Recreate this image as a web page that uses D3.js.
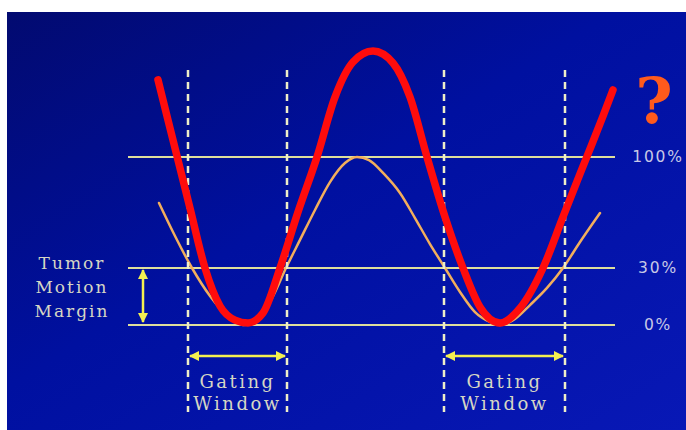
<!DOCTYPE html>
<html>
<head>
<meta charset="utf-8">
<script src="https://cdn.jsdelivr.net/npm/d3@7"></script>
<style>
  html, body { margin: 0; padding: 0; background: #fff; }
  svg { display: block; }
  .lbl { font-family: "DejaVu Serif", serif; fill: #d6d6c4; }
</style>
</head>
<body>
<div id="chart"></div>
<script>
// time (arbitrary units) and respiratory amplitude (% of motion)
var orangeT   = [6.8, 10, 13.4, 17, 20.6, 23.6, 26.6, 29.4, 32.2, 35, 38, 41, 44, 46.4, 48.8, 51.8, 55, 58, 61, 64, 67, 70, 73, 75, 78, 81, 84.4, 87.6, 91, 95];
var orangeVal = [71, 50.2, 30, 15.3, 4.7, 0, 3.7, 14.2, 30, 47.7, 66.6, 84.2, 96.2, 100, 98.1, 89.3, 77.3, 61.5, 45.1, 30, 17.4, 6.8, 1.6, 0, 3.2, 10.5, 19.5, 30, 46.4, 64.7];

var redT   = [6.6, 8.4, 10.4, 13, 16, 19, 22, 24.6, 27.6, 31, 34.6, 38.4, 42, 45.6, 49.6, 53.6, 57, 60.4, 64, 67.6, 71, 75, 79, 83.6, 87.6, 91, 93.4, 95.6, 97.6];
var redVal = [148.6, 125.8, 100.6, 67.8, 30, 10, 2.6, 1.1, 6.3, 30, 65.3, 100, 137.8, 159.9, 166.8, 159.3, 137.8, 100, 62.2, 30, 9.5, 1.1, 8.9, 30, 62.2, 89.3, 108.2, 125.8, 142.3];

var levels      = [0, 30, 100];
var levelLabels = ["0%", "30%", "100%"];

// gating windows: [start, end]
var gateStart = [12.6, 63.8];
var gateEnd   = [32.4, 88];
var gateLines = ["Gating", "Window"];

var marginText = ["Tumor", "Motion", "Margin"];

var W = 686, H = 430;

var svg = d3.select("#chart").append("svg")
  .attr("width", W).attr("height", H);

var defs = svg.append("defs");
var grad = defs.append("linearGradient").attr("id", "bg")
  .attr("x1", "0").attr("y1", "0").attr("x2", "1").attr("y2", "1");
grad.append("stop").attr("offset", "0%").attr("stop-color", "#020a70");
grad.append("stop").attr("offset", "45%").attr("stop-color", "#0010a0");
grad.append("stop").attr("offset", "100%").attr("stop-color", "#0818b6");

defs.append("marker").attr("id", "ah")
  .attr("viewBox", "0 0 10 10").attr("refX", 9).attr("refY", 5)
  .attr("markerWidth", 4).attr("markerHeight", 4)
  .attr("markerUnits", "strokeWidth")
  .attr("orient", "auto-start-reverse")
  .append("path").attr("d", "M0,0 L10,5 L0,10 Z").attr("fill", "#f4f050");

svg.append("rect")
  .attr("x", 7).attr("y", 12).attr("width", W - 7).attr("height", H - 12)
  .attr("fill", "url(#bg)");

//scales
var x = d3.scaleLinear().domain([0, 100]).range([125, 625]);
var y = d3.scaleLinear().domain([0, 30, 100]).range([325, 268, 157]);

var lineLeft = 128, lineRight = 615;

// level lines
svg.selectAll(".level").data(levels).enter().append("line")
  .attr("x1", lineLeft).attr("x2", lineRight)
  .attr("y1", function(d) { return y(d); })
  .attr("y2", function(d) { return y(d); })
  .attr("stroke", "#dede9c").attr("stroke-width", 2);

svg.selectAll(".levelLbl").data(levels).enter().append("text")
  .attr("class", "lbl")
  .attr("x", 658)
  .attr("y", function(d) { return y(d) + 5; })
  .attr("text-anchor", "middle")
  .style("font-family", "'DejaVu Sans', sans-serif")
  .style("fill", "#c8c8e6")
  .attr("font-size", 15.5)
  .attr("letter-spacing", 1.8)
  .text(function(d, i) { return levelLabels[i]; });

// curves
var line = d3.line()
  .x(function(d) { return x(d[0]); })
  .y(function(d) { return y(d[1]); })
  .curve(d3.curveMonotoneX);

svg.append("path")
  .attr("d", line(d3.zip(orangeT, orangeVal)))
  .attr("fill", "none")
  .attr("stroke", "#f2ae5c")
  .attr("stroke-width", 2.5)
  .attr("stroke-linecap", "round");

// gating window dashed lines
var gateEdges = gateStart.concat(gateEnd);
svg.selectAll(".gate").data(gateEdges).enter().append("line")
  .attr("x1", function(d) { return x(d); })
  .attr("x2", function(d) { return x(d); })
  .attr("y1", 70).attr("y2", 412)
  .attr("stroke", "#eeeec8").attr("stroke-width", 2.5)
  .attr("stroke-dasharray", "7,5");

svg.append("path")
  .attr("d", line(d3.zip(redT, redVal)))
  .attr("fill", "none")
  .attr("stroke", "#ff0c0c")
  .attr("stroke-width", 7.5)
  .attr("stroke-linecap", "round")
  .attr("stroke-linejoin", "round");

// gating window arrows and labels
gateStart.forEach(function(s, i) {
  var e = gateEnd[i];
  svg.append("line")
    .attr("x1", x(s) + 2).attr("x2", x(e) - 2)
    .attr("y1", 356).attr("y2", 356)
    .attr("stroke", "#f4f050").attr("stroke-width", 2.5)
    .attr("marker-start", "url(#ah)")
    .attr("marker-end", "url(#ah)");
  svg.selectAll(null).data(gateLines).enter().append("text")
    .attr("class", "lbl")
    .attr("x", (x(s) + x(e)) / 2)
    .attr("y", function(d, j) { return 388 + j * 22; })
    .attr("text-anchor", "middle")
    .attr("font-size", 18)
    .attr("letter-spacing", 2.5)
    .text(function(d) { return d; });
});

// tumor motion margin
svg.append("line")
  .attr("x1", 143).attr("x2", 143)
  .attr("y1", y(30) + 2).attr("y2", y(0) - 3)
  .attr("stroke", "#f4f050").attr("stroke-width", 2.5)
  .attr("marker-start", "url(#ah)")
  .attr("marker-end", "url(#ah)");

svg.selectAll(".mm").data(marginText).enter().append("text")
  .attr("class", "lbl")
  .attr("x", 72)
  .attr("y", function(d, i) { return 269 + i * 24; })
  .attr("text-anchor", "middle")
  .attr("font-size", 17)
  .attr("letter-spacing", 2)
  .text(function(d) { return d; });

// question mark
svg.append("text")
  .attr("x", 654).attr("y", 123)
  .attr("text-anchor", "middle")
  .style("font-family", "'DejaVu Serif', serif")
  .style("font-weight", "bold")
  .attr("font-size", 64)
  .attr("fill", "#ff5a1c")
  .text("?");
</script>
</body>
</html>
